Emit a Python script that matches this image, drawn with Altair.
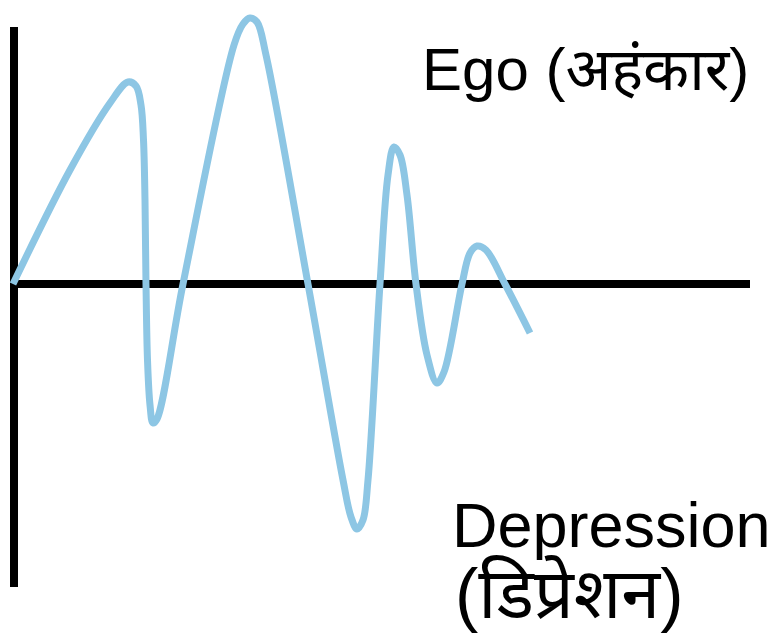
import altair as alt
import pandas as pd

# Curve: horizontal position and level above the zero line
t = [13, 70, 110, 128, 136, 141, 143.5, 145, 146, 147.5, 150, 153, 157, 183,
     234, 243, 250, 257, 266, 308, 343, 351, 357, 363, 368, 380, 388, 394, 400, 407, 416,
     427, 437, 444, 462, 470, 477, 486, 505, 530]
level = [0, 114, 181, 202, 198, 179, 144, 84, 0, -76, -121, -139, -135, 0,
         239, 260, 266, 262, 229, 0, -196, -233, -245, -236, -196, 0, 109, 137, 129, 89, 0,
         -71, -99, -88, 0, 31, 38, 34, 0, -49]

# Axis lines
axis_x = [14, 10]
axis_x2 = [14, 750]
axis_y = [257, 0]
axis_y2 = [-303, 0]

# Labels
label_text = ["Ego (अहंकार)", "Depression", "(डिप्रेशन)"]
label_x = [422, 452, 455]
label_y = [194, -263, -334]

curve = pd.DataFrame({"t": t, "level": level})
axes = pd.DataFrame({"x": axis_x, "x2": axis_x2, "y": axis_y, "y2": axis_y2})
labels = pd.DataFrame({"text": label_text, "x": label_x, "y": label_y})

xs = alt.Scale(domain=[8, 771], nice=False, zero=False)
ys = alt.Scale(domain=[-350, 276], nice=False, zero=False)

rules = alt.Chart(axes).mark_rule(color="black", strokeWidth=8, strokeCap="butt").encode(
    x=alt.X("x:Q", scale=xs, axis=None),
    x2="x2:Q",
    y=alt.Y("y:Q", scale=ys, axis=None),
    y2="y2:Q",
)

line = alt.Chart(curve).mark_line(
    color="#8DC6E4", strokeWidth=7, interpolate="catmull-rom", strokeCap="butt"
).encode(
    x=alt.X("t:Q", scale=xs, axis=None),
    y=alt.Y("level:Q", scale=ys, axis=None),
)


def label_layer(i, size):
    return alt.Chart(labels.iloc[[i]]).mark_text(
        align="left", baseline="alphabetic", fontSize=size, color="black",
        font="Liberation Sans, Arial, Noto Sans, sans-serif"
    ).encode(
        x=alt.X("x:Q", scale=xs, axis=None),
        y=alt.Y("y:Q", scale=ys, axis=None),
        text="text:N",
    )


chart = alt.layer(
    rules, line, label_layer(0, 60), label_layer(1, 63), label_layer(2, 70)
).properties(
    width=763, height=626, padding=0, autosize="none",
).configure_view(stroke=None)

chart.save("out.html", embed_options={"renderer": "svg", "actions": False})
